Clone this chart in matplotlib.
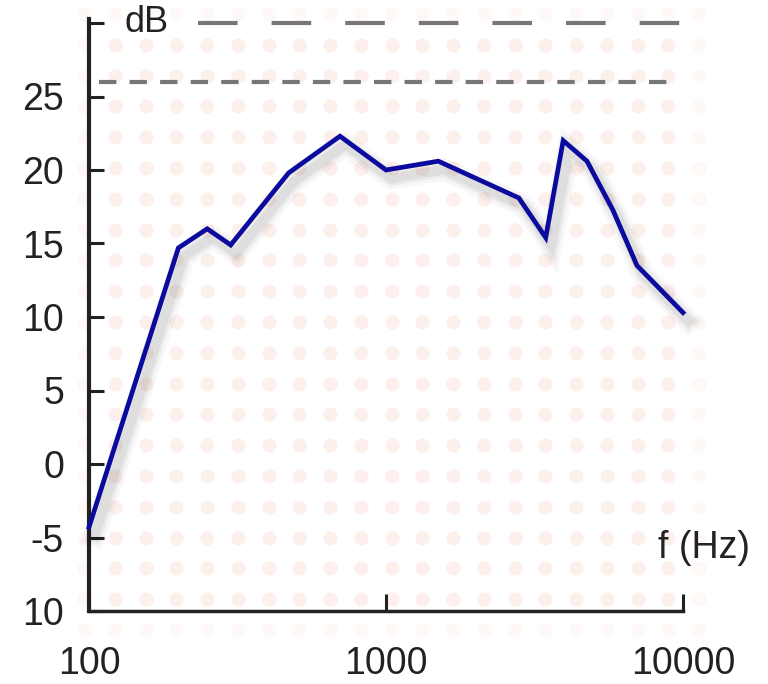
import numpy as np
import matplotlib
matplotlib.use('Agg')
import matplotlib.pyplot as plt
import matplotlib.patheffects as pe

plt.rcParams['font.family'] = ['Liberation Sans', 'DejaVu Sans']
plt.rcParams['lines.scale_dashes'] = False

# Data ---------------------------------------------------------------
freq = [100, 200, 250, 300, 470, 700, 1000, 1500, 2800, 3450, 3950, 4750, 5800, 7000, 10000]
level = [-4.3, 14.7, 16.0, 14.9, 19.8, 22.3, 20.0, 20.6, 18.1, 15.4, 22.0, 20.6, 17.3, 13.5, 10.3]

y_ticks = [-10, -5, 0, 5, 10, 15, 20, 25, 30]
y_labels = ['10', '-5', '0', '5', '10', '15', '20', '25', '']
x_ticks = [100, 1000, 10000]
x_labels = ['100', '1000', '10000']
ref_long = 30    # long dashed reference
ref_short = 26   # short dashed reference

W, H = 768, 684
fig = plt.figure(figsize=(W / 100, H / 100), dpi=100)

# Background dot pattern (pixel coordinates) -------------------------
bg = fig.add_axes([0, 0, 1, 1], zorder=0)
bg.set_xlim(0, W)
bg.set_ylim(H, 0)
bg.axis('off')
cols = 84 + 30.75 * np.arange(21)
rows = 14 + 30.8 * np.arange(21)
cx, cy = np.meshgrid(cols, rows)
edge = (cx == cols[0]) | (cx == cols[-1]) | (cy == rows[0]) | (cy == rows[-1])
bg.scatter(cx[~edge], cy[~edge], s=105, color='#fdf0ec', lw=0)
bg.scatter(cx[edge], cy[edge], s=105, color='#fef8f6', lw=0)

# Main axes ----------------------------------------------------------
top_px, bot_px = 23, 611
ax = fig.add_axes([89 / W, (H - bot_px) / H, (683 - 89) / W, (bot_px - top_px) / H], zorder=1)
ax.patch.set_alpha(0)
ax.set_xscale('log')
ax.set_xlim(100, 10000)
ax.set_ylim(-10, 30)

shadow = [pe.SimpleLineShadow(offset=(4, -6), shadow_color='#000000', alpha=a, linewidth=w)
          for a, w in [(0.03, 16), (0.045, 11), (0.06, 7)]]
ax.plot(freq, level, color='#0a0a9e', lw=3.4, solid_joinstyle='miter', zorder=5,
        path_effects=shadow + [pe.Normal()], clip_on=False)

ax.axhline(ref_long, xmin=(198 - 89) / 594, xmax=(680 - 89) / 594, color='#777777',
           lw=3, linestyle=(0, (28.5, 24.5)), clip_on=False)
ax.axhline(ref_short, xmin=(99 - 89) / 594, xmax=(671 - 89) / 594, color='#777777',
           lw=3, linestyle=(0, (12.5, 9.5)), clip_on=False)

for s in ['top', 'right']:
    ax.spines[s].set_visible(False)
ax.spines['left'].set_linewidth(3)
ax.spines['bottom'].set_linewidth(2.5)
ax.spines['left'].set_color('#222222')
ax.spines['bottom'].set_color('#222222')
ax.spines['left'].set_bounds(-10, 30.3)

ax.set_yticks(y_ticks)
ax.set_yticklabels(y_labels)
ax.set_xticks(x_ticks)
ax.set_xticklabels(x_labels)
ax.xaxis.set_minor_locator(matplotlib.ticker.NullLocator())
ax.tick_params(axis='y', direction='in', length=11, width=2.2, pad=18, labelsize=27,
               colors='#222222')
ax.tick_params(axis='x', direction='in', length=12, width=2.2, pad=25, labelsize=27,
               colors='#222222')

ax.text(124 / W, 1 - 22 / H, 'dB', transform=fig.transFigure, fontsize=26,
        va='center', ha='left', color='#222222')
ax.text(658 / W, 1 - 548 / H, 'f (Hz)', transform=fig.transFigure, fontsize=27,
        va='center', ha='left', color='#222222')

fig.savefig('out.png', dpi=100)
